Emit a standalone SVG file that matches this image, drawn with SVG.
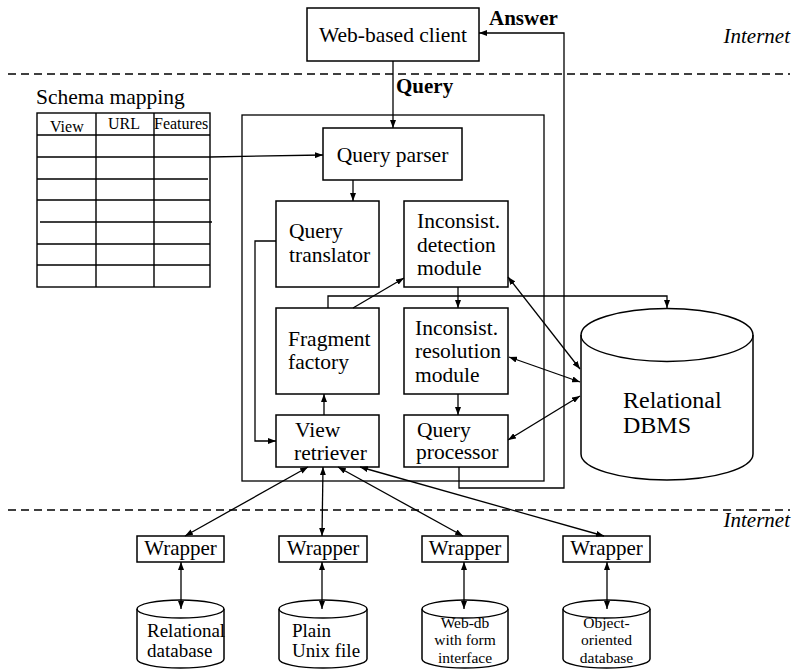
<svg xmlns="http://www.w3.org/2000/svg" width="792" height="669" viewBox="0 0 792 669" font-family="'Liberation Serif', 'DejaVu Serif', serif">
<style>
text{font-family:'Liberation Serif','DejaVu Serif',serif;fill:#000}
.t{font-size:21.5px}
.b{font-size:21px;font-weight:bold}
.i{font-size:21px;font-style:italic}
.s{font-size:15.5px}
.box{fill:#fff;stroke:#000;stroke-width:1.5}
.ln{fill:none;stroke:#000;stroke-width:1.3}
.dash{fill:none;stroke:#000;stroke-width:1.3;stroke-dasharray:8,5}
.grid{fill:none;stroke:#000;stroke-width:1.4}
</style>
<defs>
<marker id="ah" markerUnits="userSpaceOnUse" markerWidth="8" markerHeight="6" refX="8" refY="3" orient="auto-start-reverse">
<path d="M0,0 L8,3 L0,6 z" fill="#000"/>
</marker>
</defs>
<rect width="792" height="669" fill="#fff"/>

<line class="dash" x1="8" y1="74" x2="790" y2="74"/>
<line class="dash" x1="8" y1="510" x2="790" y2="510"/>
<text class="i" x="790" y="43" text-anchor="end">Internet</text>
<text class="i" x="790" y="527" text-anchor="end">Internet</text>
<text class="b" x="489" y="25">Answer</text>
<text class="b" x="396" y="93">Query</text>

<rect id="server" x="242" y="115" width="302" height="366" fill="none" stroke="#000" stroke-width="1.3"/>

<g id="client">
<rect class="box" x="307" y="8" width="172" height="53"/>
<text class="t" x="393" y="42" text-anchor="middle">Web-based client</text>
</g>

<g id="schema-mapping">
<text class="t" x="36" y="104">Schema mapping</text>
<rect class="grid" x="37" y="113" width="173" height="174"/>
<path class="grid" d="M96,113V287M154,113V287M37,135H210M37,157H210M37,179H208M37,200H210M40,222H212M37,244H210M37,265H210"/>
<text x="50" y="132" font-size="16">View</text>
<text x="108" y="129" font-size="16">URL</text>
<text x="154" y="129" font-size="16">Features</text>
</g>

<g id="query-parser">
<rect class="box" x="323" y="128" width="139" height="52"/>
<text class="t" x="392.5" y="162" text-anchor="middle">Query parser</text>
</g>

<g id="query-translator">
<rect class="box" x="276" y="201" width="103" height="86"/>
<text class="t" x="289" y="238">Query</text>
<text class="t" x="289" y="262">translator</text>
</g>

<g id="inconsist-detection">
<rect class="box" x="404" y="201" width="104" height="86"/>
<text class="t" x="417" y="228">Inconsist.</text>
<text class="t" x="417" y="252">detection</text>
<text class="t" x="417" y="275">module</text>
</g>

<g id="fragment-factory">
<rect class="box" x="276" y="308" width="103" height="86"/>
<text class="t" x="288" y="346">Fragment</text>
<text class="t" x="288" y="369">factory</text>
</g>

<g id="inconsist-resolution">
<rect class="box" x="404" y="308" width="104" height="86"/>
<text class="t" x="415" y="335">Inconsist.</text>
<text class="t" x="415" y="358">resolution</text>
<text class="t" x="415" y="382">module</text>
</g>

<g id="view-retriever">
<rect class="box" x="276" y="415" width="103" height="52"/>
<text class="t" x="295" y="437">View</text>
<text class="t" x="294" y="460">retriever</text>
</g>

<g id="query-processor">
<rect class="box" x="404" y="415" width="104" height="52"/>
<text class="t" x="417" y="437">Query</text>
<text class="t" x="416" y="459">processor</text>
</g>

<g id="relational-dbms">
<path class="box" d="M581,335 A86,26.5 0 0 1 753,335 V454 A86,26 0 0 1 581,454 Z"/>
<path class="ln" d="M581,335 A86,26.5 0 0 0 753,335"/>
<text x="623" y="408" font-size="24">Relational</text>
<text x="623" y="433" font-size="24">DBMS</text>
</g>

<g id="wrapper-1">
<rect class="box" x="137" y="536" width="87" height="26"/>
<text x="180.5" y="555" font-size="21" text-anchor="middle">Wrapper</text>
</g>
<g id="wrapper-2">
<rect class="box" x="279" y="536" width="88" height="26"/>
<text x="323" y="555" font-size="21" text-anchor="middle">Wrapper</text>
</g>
<g id="wrapper-3">
<rect class="box" x="422" y="536" width="86" height="26"/>
<text x="465" y="555" font-size="21" text-anchor="middle">Wrapper</text>
</g>
<g id="wrapper-4">
<rect class="box" x="563" y="536" width="87" height="26"/>
<text x="606.5" y="555" font-size="21" text-anchor="middle">Wrapper</text>
</g>

<g id="db-relational">
<path class="box" d="M137,609 A43.5,9 0 0 1 224,609 V659 A43.5,9 0 0 1 137,659 Z"/>
<path class="ln" d="M137,609 A43.5,9 0 0 0 224,609"/>
<text x="147" y="637" font-size="19">Relational</text>
<text x="147" y="657" font-size="19">database</text>
</g>
<g id="db-unix">
<path class="box" d="M279,609 A44,9 0 0 1 367,609 V659 A44,9 0 0 1 279,659 Z"/>
<path class="ln" d="M279,609 A44,9 0 0 0 367,609"/>
<text x="292" y="637" font-size="19">Plain</text>
<text x="292" y="657" font-size="19">Unix file</text>
</g>
<g id="db-webdb">
<path class="box" d="M422,609 A43,9 0 0 1 508,609 V659 A43,9 0 0 1 422,659 Z"/>
<path class="ln" d="M422,609 A43,9 0 0 0 508,609"/>
<text class="s" x="465" y="628" text-anchor="middle">Web-db</text>
<text class="s" x="465" y="645.3" text-anchor="middle">with form</text>
<text class="s" x="465" y="662.6" text-anchor="middle">interface</text>
</g>
<g id="db-oo">
<path class="box" d="M563,609 A43.5,9 0 0 1 650,609 V659 A43.5,9 0 0 1 563,659 Z"/>
<path class="ln" d="M563,609 A43.5,9 0 0 0 650,609"/>
<text class="s" x="606.5" y="628" text-anchor="middle">Object-</text>
<text class="s" x="606.5" y="645.3" text-anchor="middle">oriented</text>
<text class="s" x="606.5" y="662.6" text-anchor="middle">database</text>
</g>

<g id="connectors" class="ln">
<line x1="393" y1="61" x2="393" y2="128" marker-end="url(#ah)"/>
<polyline points="459,467 459,488 564,488 564,33 479,33" marker-end="url(#ah)"/>
<line x1="210" y1="157" x2="323" y2="155" marker-end="url(#ah)"/>
<line x1="353" y1="180" x2="353" y2="201" marker-end="url(#ah)"/>
<polyline points="276,241 255,241 255,441 276,441" marker-end="url(#ah)"/>
<line x1="324" y1="415" x2="324" y2="394" marker-end="url(#ah)"/>
<line x1="353" y1="308" x2="404" y2="278" marker-end="url(#ah)"/>
<polyline points="328,308 328,296 667,296 667,308" marker-end="url(#ah)"/>
<line x1="458" y1="287" x2="458" y2="308" marker-end="url(#ah)"/>
<line x1="458" y1="394" x2="458" y2="415" marker-end="url(#ah)"/>
<line x1="508" y1="277" x2="580" y2="369" marker-start="url(#ah)" marker-end="url(#ah)"/>
<line x1="509" y1="357" x2="580" y2="382" marker-start="url(#ah)" marker-end="url(#ah)"/>
<line x1="508" y1="440" x2="580" y2="396" marker-start="url(#ah)" marker-end="url(#ah)"/>
<line x1="308" y1="467" x2="185" y2="536" marker-start="url(#ah)" marker-end="url(#ah)"/>
<line x1="323" y1="467" x2="322" y2="536" marker-start="url(#ah)" marker-end="url(#ah)"/>
<line x1="338" y1="467" x2="463" y2="536" marker-start="url(#ah)" marker-end="url(#ah)"/>
<line x1="360" y1="467" x2="604" y2="536" marker-start="url(#ah)" marker-end="url(#ah)"/>
<line x1="181" y1="562" x2="181" y2="609" marker-start="url(#ah)" marker-end="url(#ah)"/>
<line x1="322" y1="562" x2="322" y2="609" marker-start="url(#ah)" marker-end="url(#ah)"/>
<line x1="464" y1="562" x2="464" y2="609" marker-start="url(#ah)" marker-end="url(#ah)"/>
<line x1="607" y1="562" x2="607" y2="609" marker-start="url(#ah)" marker-end="url(#ah)"/>
</g>
</svg>
